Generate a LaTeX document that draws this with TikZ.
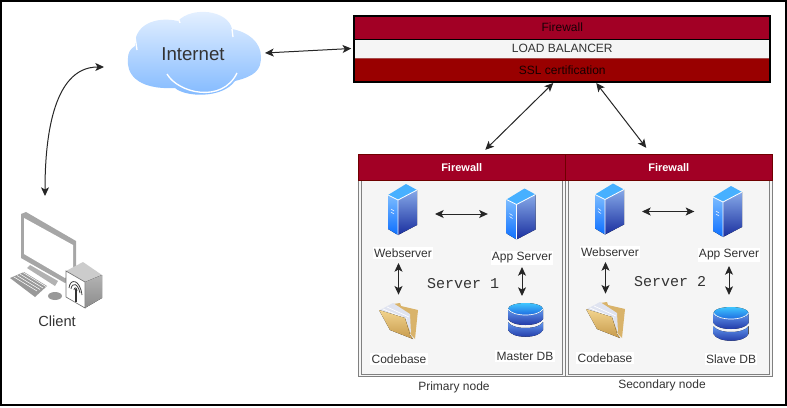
\documentclass[tikz,border=0pt]{standalone}
\usepackage{fontspec}
\setmainfont{Liberation Sans}
\setmonofont{Liberation Mono}
\usetikzlibrary{arrows.meta,calc,fit,positioning}
\definecolor{fwred}{HTML}{A20025}
\definecolor{fwline}{HTML}{6F0000}
\definecolor{sslred}{HTML}{990000}
\definecolor{panel}{HTML}{F5F5F5}
\definecolor{txt}{HTML}{333333}
\definecolor{cloudtop}{HTML}{EAF3FF}
\definecolor{cloudlow}{HTML}{7FB8FF}
\definecolor{srvtop}{HTML}{47B0FF}
\definecolor{srvlighta}{HTML}{7CBCFF}
\definecolor{srvlightb}{HTML}{0D6FFF}
\definecolor{srvfronta}{HTML}{86A9E8}
\definecolor{srvfrontb}{HTML}{1A2F9F}
\definecolor{foldera}{HTML}{F2D48F}
\definecolor{folderb}{HTML}{C79A4B}
\definecolor{folderback}{HTML}{D9B36A}
\definecolor{papers}{HTML}{DFE3F0}
\definecolor{dbtopa}{HTML}{3FC5FF}
\definecolor{dbtopb}{HTML}{1E6BE0}
\tikzset{
    arrow/.style={<->, line width=0.75pt, >={Stealth[length=6.5pt,width=6pt,inset=1.6pt]}, color=black!85},
    bar/.style={rectangle, minimum width=312pt, outer sep=0pt, inner sep=0pt, font=\fontsize{9}{10}\selectfont},
    fwhead/.style={rectangle, draw=fwline, fill=fwred, text=white, minimum width=155pt, minimum height=20pt, outer sep=0pt, inner sep=0pt, font=\fontsize{8.25}{10}\selectfont\bfseries},
    nodebody/.style={rectangle, draw=black!50, fill=panel, line width=0.75pt, double=panel, double distance=1.25pt, minimum width=153pt, minimum height=147.75pt, outer sep=0pt},
    label/.style={fill=white, text=txt, inner sep=1pt, font=\fontsize{9}{10}\selectfont},
    caption/.style={text=txt, inner sep=0pt, font=\fontsize{9}{10}\selectfont},
    servername/.style={text=txt, inner sep=0pt, font=\ttfamily\fontsize{11.25}{12}\selectfont},
    serverbox/.style={rectangle, minimum width=21.75pt, minimum height=38.25pt, inner sep=0pt, outer sep=0pt},
    folderbox/.style={rectangle, minimum width=29.25pt, minimum height=27.75pt, inner sep=0pt, outer sep=0pt},
    dbbox/.style={rectangle, minimum width=26.25pt, minimum height=25.5pt, inner sep=0pt, outer sep=0pt},
    serverpic/.pic={
        \fill[top color=srvlighta, bottom color=srvlightb] (0,11) -- (10,16) -- (10,51) -- (0,45) -- cycle;
        \fill[top color=srvfronta, bottom color=srvfrontb] (10,16) -- (29,6) -- (29,41) -- (10,51) -- cycle;
        \fill[srvtop] (0,11) -- (18,0) -- (29,6) -- (10,16) -- cycle;
        \draw[white, line width=0.6pt] (0,11) -- (10,16) -- (29,6) (10,16) -- (10,51);
        \draw[white, line width=0.4pt] (3,25) -- (6,27) (3,28) -- (6,30);
    },
    folderpic/.pic={
        \fill[folderback] (14,2) -- (21,1) -- (22,4) -- (39,8) -- (36,37) -- (20,20) -- cycle;
        \fill[papers] (1,8) -- (14,1) -- (31,12) -- (32,32) -- (26,16) -- cycle;
        \draw[white, line width=0.5pt] (4,7) -- (28,17) (8,5) -- (30,15);
        \fill[top color=foldera, bottom color=folderb] (0,8) -- (26,16) -- (31,33) -- (34,37) -- (11,28) -- cycle;
    },
    dbpic/.pic={
        \fill[top color=srvfronta!70!srvlightb, bottom color=srvfrontb] (0,19) .. controls (4,27) and (31,27) .. (35,19) -- (35,27) .. controls (31,36) and (4,36) .. (0,27) -- cycle;
        \fill[top color=srvfronta!70!srvlightb, bottom color=srvfrontb] (0,6) -- (35,6) -- (35,16) .. controls (31,24) and (4,24) .. (0,16) -- cycle;
        \fill[top color=dbtopa, bottom color=dbtopb] (17.5,6) ellipse [x radius=17.5, y radius=6];
        \draw[white, line width=0.5pt] (0,6) .. controls (4,14) and (31,14) .. (35,6);
    }
}
\begin{document}
\begin{tikzpicture}[x=0.75pt, y=-0.75pt]
\useasboundingbox (0,0) rectangle (787,407);
\draw[line width=1.5pt] (1,1) rectangle (786,405);

% Internet
\shade[top color=cloudtop, bottom color=cloudlow] (128,58) .. controls (126,72) and (135,90) .. (175,88)
    .. controls (185,97) and (222,99) .. (235,81) .. controls (255,76) and (261,70) .. (261,57)
    .. controls (261,42) and (248,32) .. (232,29) .. controls (228,10) and (192,6) .. (178,21)
    .. controls (155,16) and (134,25) .. (135,46) .. controls (130,49) and (128,53) .. (128,58) -- cycle;
\draw[white, line width=1pt] (167,74) .. controls (178,93) and (222,104) .. (237,73);
\draw[white, line width=1pt] (135,37) -- (137,50) (177,15) -- (180,23) (232,29) -- (233,37);
\node[rectangle, minimum width=100.5pt, minimum height=61.5pt, inner sep=0pt, outer sep=0pt, text=txt, font=\fontsize{14}{16}\selectfont] (internet) at (193,54) {Internet};

% Client
\node[rectangle, minimum width=69pt, minimum height=72pt, inner sep=0pt, outer sep=0pt] (clientbox) at (56,260) {};
\fill[black!35] (21,214) -- (26,212) -- (76,241) -- (76,276) -- (65,283) -- (21,258) -- cycle;
\fill[white] (24,218) -- (73,245) -- (73,272) -- (65,278) -- (24,254) -- cycle;
\fill[black!30] (27,268) -- (30,265) -- (58,281) -- (55,286) -- cycle;
\fill[black!40] (10,278) -- (24,272) -- (47,286) -- (35,297) -- cycle;
\foreach \k in {0,1,2,3} {
    \draw[white, line width=0.4pt] (14+\k*3,277-\k*1.5) -- (37+\k*3,291-\k*1.5);
}
\fill[black!40] (55,296) ellipse [x radius=7, y radius=4];
\fill[black!20] (66,271) -- (83,262) -- (102,275) -- (85,282) -- cycle;
\fill[top color=black!30, bottom color=black!45] (85,282) -- (102,275) -- (102,298) -- (85,308) -- cycle;
\fill[white] (66,271) -- (85,282) -- (85,308) -- (66,297) -- cycle;
\draw[black!55, line width=0.5pt] (66,271) -- (85,282) -- (85,308) -- (66,297) -- cycle;
\draw[black!75, line width=0.6pt] (69,288) .. controls (70,278) and (80,279) .. (82,295)
    (71,289) .. controls (72,282) and (78,283) .. (80,293) (74,290) .. controls (74,287) and (77,287) .. (77,291);
\draw[black!80, line width=1pt] (76,289) -- (76,302);
\node[caption, font=\fontsize{11}{12}\selectfont] (client) at (57,321) {Client};

% Load balancer stack
\node[bar, fill=fwred, text=black!85!fwred, minimum height=17.25pt] (topfw) at (562.25,27.5) {Firewall};
\node[bar, fill=panel, text=txt, minimum height=14.25pt, below=0pt of topfw] (lb) {LOAD BALANCER};
\node[bar, fill=sslred, text=black!85!sslred, minimum height=18pt, below=0pt of lb] (ssl) {SSL certification};
\draw[black, line width=0.75pt] (topfw.south west) -- (topfw.south east);
\draw[red!50!black!70!white, line width=0.75pt] (ssl.north west) -- (ssl.north east);
\node[fit=(topfw)(lb)(ssl), draw=black, line width=1.25pt, inner sep=0pt] (stack) {};

% Servers
\node[nodebody] (body1) at (461.75,277) {};
\node[nodebody] (body2) at (668.75,277) {};
\node[fwhead, above=-1.5pt of body1] (fw1) {Firewall};
\node[fwhead, above=-1.5pt of body2] (fw2) {Firewall};

\node[serverbox] (web1) at (402.5,209.5) {};
\node[serverbox] (app1) at (521,214) {};
\node[folderbox] (code1) at (398.5,320.5) {};
\node[dbbox] (db1) at (525.5,320) {};
\pic at (web1.north west) {serverpic};
\pic at (app1.north west) {serverpic};
\pic at (code1.north west) {folderpic};
\pic at (db1.north west) {dbpic};

\node[serverbox] (web2) at (609.5,209) {};
\node[serverbox] (app2) at (727.5,211.5) {};
\node[folderbox] (code2) at (605.5,319.5) {};
\node[dbbox] (db2) at (731,324) {};
\pic at (web2.north west) {serverpic};
\pic at (app2.north west) {serverpic};
\pic at (code2.north west) {folderpic};
\pic at (db2.north west) {dbpic};

% Labels
\node[label] (web1lbl) at (403,253) {Webserver};
\node[label] (app1lbl) at (522,258) {App Server};
\node[label] (code1lbl) at (399,359) {Codebase};
\node[label] (db1lbl) at (525,356) {Master DB};
\node[servername] (name1) at (463,284) {Server 1};
\node[caption] (primary) at (454,387) {Primary node};

\node[label] (web2lbl) at (610,252) {Webserver};
\node[label] (app2lbl) at (729,255) {App Server};
\node[label] (code2lbl) at (605,358) {Codebase};
\node[label] (db2lbl) at (731,359) {Slave DB};
\node[servername] (name2) at (670,282) {Server 2};
\node[caption] (secondary) at (662,385) {Secondary node};

% Arrows
\draw[arrow] ($(clientbox.north)+(-11,-16)$) to[out=90, in=180, looseness=0.95] ($(internet.west)+(-22,13)$);
\draw[arrow] ($(internet.east)+(5,-1)$) -- ($(lb.west)+(-3,0)$);
\draw[arrow] ($(ssl.south)+(-9,1)$) -- ($(fw1.north)+(23.5,-4)$);
\draw[arrow] ($(ssl.south)+(34,1)$) -- ($(fw2.north)+(-22.5,-6)$);
\draw[arrow, shorten <=13.5pt, shorten >=14pt] (web1.east |- app1.west) -- (app1.west);
\draw[arrow, shorten <=3pt, shorten >=1pt] (code1.north |- web1lbl.south) -- ($(code1.north)+(0,-6)$);
\draw[arrow] ($(app1lbl.south)+(0,2)$) -- ($(app1lbl.south |- db1.north)+(0,-7)$);
\draw[arrow, shorten <=13.5pt, shorten >=14pt] (web2.east |- app2.west) -- (app2.west);
\draw[arrow, shorten <=3pt, shorten >=1pt] (code2.north |- web2lbl.south) -- ($(code2.north)+(0,-6)$);
\draw[arrow] ($(app2lbl.south)+(0,4)$) -- ($(app2lbl.south |- db2.north)+(0,-12)$);
\end{tikzpicture}
\end{document}
